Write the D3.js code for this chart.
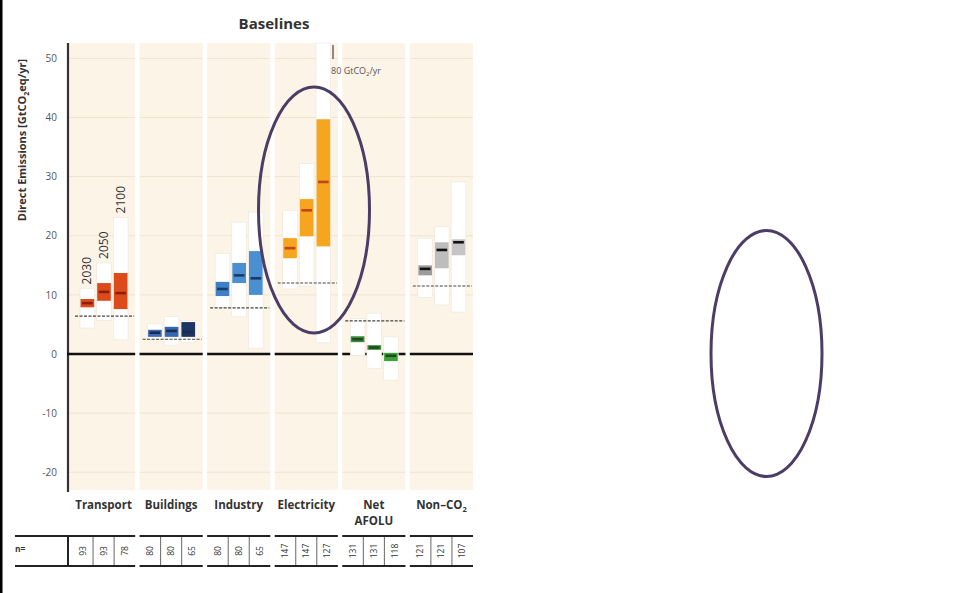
<!DOCTYPE html>
<html><head><meta charset="utf-8">
<script src="https://d3js.org/d3.v7.min.js"></script>
<style>html,body{margin:0;padding:0;background:#fff;}svg{display:block;font-family:"Open Sans",sans-serif;}</style>
</head><body>
<script>
const sectors = ["Transport","Buildings","Industry","Electricity","Net AFOLU","Non–CO₂"];
const years = ["2030","2050","2100"];
const yTicks = [-20,-10,0,10,20,30,40,50];
// full range (white boxes)
const minVals = [[4.4,5.7,2.4],[2.4,1.5,2.0],[7.9,6.3,1.0],[11.0,11.5,1.9],[-0.3,-2.4,-4.4],[9.6,8.3,7.1]];
const maxVals = [[11.1,15.4,23.1],[5.1,6.3,5.7],[17.0,22.3,24.0],[24.3,32.2,80],[6.0,6.9,2.9],[19.6,21.5,29.1]];
// interquartile range (coloured boxes)
const q1Vals = [[7.9,9.0,7.6],[2.9,2.9,2.9],[9.8,12.0,10.0],[16.2,19.9,18.2],[2.0,0.7,-1.2],[13.3,14.5,16.7]];
const q3Vals = [[9.3,12.0,13.7],[4.1,4.6,5.4],[12.2,15.4,17.4],[19.6,26.2,39.7],[3.0,1.5,0.2],[15.0,18.9,19.4]];
const medVals = [[8.6,10.5,10.3],[3.6,3.9,3.7],[11.0,13.3,12.8],[17.9,24.3,29.1],[2.5,1.1,-0.3],[14.4,17.6,18.9]];
// 2010 emission level (dashed)
const level2010 = [6.4,2.5,7.8,12.0,5.6,11.5];
const nCounts = [[93,93,78],[80,80,65],[80,80,65],[147,147,127],[131,131,118],[121,121,107]];
const boxColors = [["#dc4a1c","#de4b1b","#de4b1b"],["#3a6cb4","#3568b2","#1e3563"],["#3d80c6","#4a8fd1","#4a8fd1"],["#f5a51e","#f5a51e","#f5a51e"],["#3d8a3d","#3f913f","#3ba43a"],["#9d9d9d","#bdbdbd","#c4c4c4"]];
const medColors = ["#8a1f0c","#1a2b4f","#1c3a68","#c4441c","#1e4a1e","#111111"];

const W = 956, H = 593;
const svg = d3.select("body").append("svg").attr("width", W).attr("height", H);

const x = d3.scaleBand().domain(sectors).range([72, 473]).paddingInner(0.065).paddingOuter(0);
const xi = d3.scaleBand().domain(years).range([8, 56]).paddingInner(0.12);
const y = d3.scaleLinear().domain([-23, 52.6]).range([490, 43]).clamp(true);
const bw = x.bandwidth();

// left frame line
svg.append("rect").attr("x",0).attr("y",0).attr("width",2.5).attr("height",H).attr("fill","#000");

// title
svg.append("text").attr("x",274).attr("y",29).attr("text-anchor","middle")
  .attr("font-size",15).attr("font-weight","bold").attr("fill","#333").text("Baselines");

// background columns
sectors.forEach((s,i)=>{
  const x0 = x(s) - (i===0?4:0);
  const w = bw + (i===0?4:0);
  svg.append("rect").attr("x",x0).attr("y",y(52.6)).attr("width",w).attr("height",y(-23)-y(52.6)).attr("fill","#fdf4e8");
  yTicks.filter(t=>t!==0).forEach(t=>{
    svg.append("line").attr("x1",x0).attr("x2",x0+w).attr("y1",y(t)).attr("y2",y(t))
      .attr("stroke","#efe3d2").attr("stroke-width",1);
  });
});

// y axis
svg.append("line").attr("x1",68).attr("x2",68).attr("y1",43).attr("y2",492).attr("stroke","#333").attr("stroke-width",2.2);
const yAxis = d3.axisLeft(y).tickValues(yTicks).tickSize(0).tickPadding(0).tickFormat(d=>String(d));
const ga = svg.append("g").attr("transform","translate(57,0)").call(yAxis);
ga.select(".domain").remove();
ga.selectAll("text").attr("font-size",10).attr("fill","#555").attr("font-family","Open Sans, sans-serif");

// y title
const yt = svg.append("text").attr("transform","translate(26,140) rotate(-90)").attr("text-anchor","middle")
  .attr("font-size",11).attr("font-weight","bold").attr("fill","#333");
yt.append("tspan").text("Direct Emissions [GtCO");
yt.append("tspan").attr("font-size",7).attr("dy",3).text("2");
yt.append("tspan").attr("dy",-3).text("eq/yr]");

// zero lines
sectors.forEach((s,i)=>{
  svg.append("line").attr("x1",x(s)-(i===0?5:0)).attr("x2",x(s)+bw).attr("y1",y(0)).attr("y2",y(0))
    .attr("stroke","#111").attr("stroke-width",2.4);
});

// boxes
sectors.forEach((s,i)=>{
  const g = svg.append("g").attr("transform",`translate(${x(s)},0)`);
  years.forEach((yr,j)=>{
    const bx = xi(yr), w = xi.bandwidth();
    g.append("rect").attr("x",bx).attr("y",y(maxVals[i][j])).attr("width",w)
      .attr("height",y(minVals[i][j])-y(maxVals[i][j])).attr("fill","#fff").attr("stroke","#eee5da").attr("stroke-width",0.6);
  });
  g.append("line").attr("x1",3).attr("x2",bw-1).attr("y1",y(level2010[i])).attr("y2",y(level2010[i]))
    .attr("stroke","#444").attr("stroke-width",1.1).attr("stroke-dasharray","3,1.5");
  years.forEach((yr,j)=>{
    const bx = xi(yr), w = xi.bandwidth();
    g.append("rect").attr("x",bx+0.5).attr("y",y(q3Vals[i][j])).attr("width",w-1)
      .attr("height",y(q1Vals[i][j])-y(q3Vals[i][j])).attr("fill",boxColors[i][j]);
    g.append("line").attr("x1",bx+2).attr("x2",bx+w-2).attr("y1",y(medVals[i][j])).attr("y2",y(medVals[i][j]))
      .attr("stroke",medColors[i]).attr("stroke-width",2.6);
  });
});

// year labels on transport
years.forEach((yr,j)=>{
  const cx = x(sectors[0]) + xi(yr) + xi.bandwidth()/2 + 4;
  const yb = y(maxVals[0][j]) - 4;
  svg.append("text").attr("transform",`translate(${cx},${yb}) rotate(-90)`).attr("font-size",12)
    .attr("fill","#333").text(yr);
});

// 80 GtCO2/yr marker
svg.append("line").attr("x1",333).attr("x2",333).attr("y1",45).attr("y2",59).attr("stroke","#444").attr("stroke-width",1.2);
const mt = svg.append("text").attr("x",331).attr("y",74).attr("font-size",9).attr("fill","#555");
mt.append("tspan").text("80 GtCO");
mt.append("tspan").attr("font-size",6).attr("dy",2).text("2");
mt.append("tspan").attr("dy",-2).text("/yr");

// category labels
sectors.forEach((s,i)=>{
  const cx = x(s) + bw/2;
  const t = svg.append("text").attr("x",cx).attr("y",509).attr("text-anchor","middle")
    .attr("font-size",11.5).attr("font-weight","bold").attr("fill","#333");
  if (s === "Net AFOLU") {
    t.append("tspan").attr("x",cx).text("Net");
    t.append("tspan").attr("x",cx).attr("dy",16).text("AFOLU");
  } else if (s === "Non–CO₂") {
    t.append("tspan").text("Non–CO");
    t.append("tspan").attr("font-size",7.5).attr("dy",3).text("2");
  } else {
    t.text(s);
  }
});

// n= table
svg.append("text").attr("x",15).attr("y",552).attr("font-size",8.5).attr("font-weight","bold").attr("fill","#333").text("n=");
sectors.forEach((s,i)=>{
  const x0 = x(s) - (i===0?5:0), x1 = x(s)+bw;
  const cw = bw/3;
  [536,566].forEach(yy=>{
    svg.append("line").attr("x1",i===0?15:x0).attr("x2",x1).attr("y1",yy).attr("y2",yy)
      .attr("stroke","#222").attr("stroke-width",2.2);
  });
  if (i===0) svg.append("line").attr("x1",x0+1).attr("x2",x0+1).attr("y1",536).attr("y2",566).attr("stroke","#222").attr("stroke-width",2);
  [1,2].forEach(k=>{
    svg.append("line").attr("x1",x(s)+k*cw).attr("x2",x(s)+k*cw).attr("y1",537).attr("y2",565)
      .attr("stroke","#666").attr("stroke-width",1);
  });
  years.forEach((yr,j)=>{
    const cx = x(s) + cw*j + cw/2 + 3;
    svg.append("text").attr("transform",`translate(${cx},551) rotate(-90)`).attr("text-anchor","middle")
      .attr("font-size",8.5).attr("fill","#333").text(nCounts[i][j]);
  });
});

// highlight ellipses
[[314,210],[766.5,353.5]].forEach(c=>{
  svg.append("ellipse").attr("cx",c[0]).attr("cy",c[1]).attr("rx",55.5).attr("ry",123)
    .attr("fill","none").attr("stroke","#4b3d66").attr("stroke-width",3);
});
</script>
</body></html>
